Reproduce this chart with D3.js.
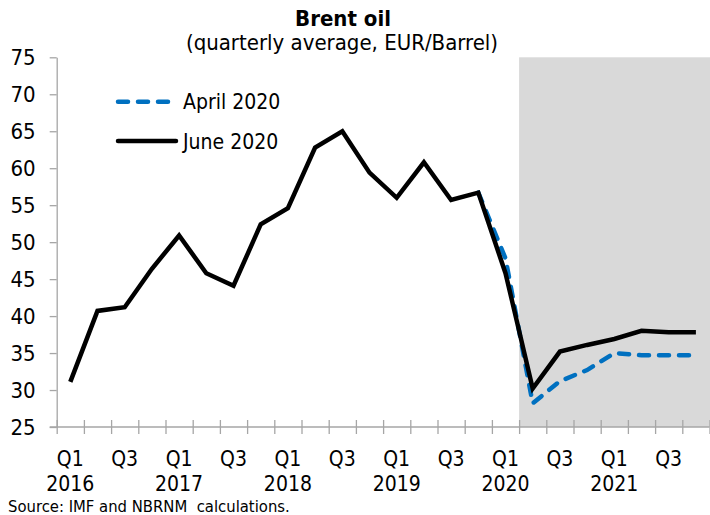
<!DOCTYPE html>
<html>
<head>
<meta charset="utf-8">
<script src="https://cdn.jsdelivr.net/npm/d3@7"></script>
<style>
  body { margin: 0; background: #fff; }
  svg { display: block; font-family: "DejaVu Sans Condensed", "DejaVu Sans", sans-serif; }
</style>
</head>
<body>
<svg width="710" height="515"></svg>
<script>
var years = ["2016", "2017", "2018", "2019", "2020", "2021"];
var quarters = ["Q1", "Q2", "Q3", "Q4"];
var shownQuarters = ["Q1", "Q3"];
var yTicks = [25, 30, 35, 40, 45, 50, 55, 60, 65, 70, 75];

// June 2020 projection (black)
var june = [31.1, 40.7, 41.2, 46.4, 50.9, 45.8, 44.1, 52.4,
            54.6, 62.8, 65.0, 59.4, 56.0, 60.8, 55.7, 56.7,
            45.8, 30.2, 35.2, 36.1, 36.9, 38.0, 37.8, 37.8];
// April 2020 projection (blue dashed)
var april = [31.1, 40.7, 41.2, 46.4, 50.9, 45.8, 44.1, 52.4,
             54.6, 62.8, 65.0, 59.4, 56.0, 60.8, 55.7, 56.7,
             47.8, 28.2, 31.2, 32.7, 35.0, 34.7, 34.7, 34.7];
var forecastStart = "2020 Q2";
var aprilFrom = "2019 Q4";   // april series only differs from here on

var categories = [];
years.forEach(function(yr) {
    quarters.forEach(function(q) { categories.push(yr + " " + q); });
});

var svg = d3.select("svg");
var margin = {top: 57.3, left: 56.7, right: 710 - 709.5, bottom: 515 - 427};
var width = 710 - margin.left - margin.right;
var height = 515 - margin.top - margin.bottom;

var x = d3.scaleBand().domain(categories).range([margin.left, margin.left + width]).padding(0);
var y = d3.scaleLinear().domain([25, 75]).range([margin.top + height, margin.top]);
var axisColor = "#a6a6a6";

// shaded forecast area
svg.append("rect")
    .attr("x", x(forecastStart))
    .attr("y", y(75))
    .attr("width", margin.left + width - x(forecastStart) + 1)
    .attr("height", y(25) - y(75))
    .attr("fill", "#d9d9d9");

// y axis
var yAxis = svg.append("g")
    .attr("transform", "translate(" + margin.left + ",0)")
    .call(d3.axisLeft(y).tickValues(yTicks).tickSize(7).tickSizeOuter(0).tickPadding(14));
yAxis.select(".domain").attr("stroke", axisColor).attr("stroke-width", 1.3);
yAxis.selectAll(".tick line").attr("stroke", axisColor).attr("stroke-width", 1.3);
yAxis.selectAll(".tick text")
    .attr("font-size", 22)
    .attr("fill", "#000")
    .attr("font-family", "DejaVu Sans Condensed");

// x axis: ticks at category boundaries, crossing the axis
var bounds = d3.range(categories.length + 1);
var xb = d3.scaleLinear().domain([0, categories.length]).range([margin.left, margin.left + width]);
var xAxis = svg.append("g")
    .attr("transform", "translate(0," + y(25) + ")")
    .call(d3.axisBottom(xb).tickValues(bounds).tickSize(7).tickSizeOuter(0).tickFormat(""));
xAxis.select(".domain").attr("stroke", axisColor).attr("stroke-width", 1.3)
    .attr("d", "M" + (margin.left - 7) + ",0H" + (margin.left + width));
xAxis.selectAll(".tick line").attr("stroke", axisColor).attr("stroke-width", 1.3).attr("y1", -7);

// category labels
var labelled = categories.filter(function(c) { return shownQuarters.indexOf(c.split(" ")[1]) >= 0; });
svg.append("g").selectAll("text")
    .data(labelled)
    .enter().append("text")
    .attr("x", function(d) { return x(d) + x.bandwidth() / 2; })
    .attr("y", 466)
    .attr("text-anchor", "middle")
    .attr("font-size", 21)
    .text(function(d) { return d.split(" ")[1]; });

svg.append("g").selectAll("text")
    .data(years)
    .enter().append("text")
    .attr("x", function(d) { return x(d + " Q1") + x.bandwidth() / 2; })
    .attr("y", 491)
    .attr("text-anchor", "middle")
    .attr("font-size", 21)
    .text(function(d) { return d; });

// lines
var startIdx = categories.indexOf(aprilFrom);
var line = function(values, from) {
    return d3.line()
        .defined(function(d, i) { return i >= from; })
        .x(function(d, i) { return x(categories[i]) + x.bandwidth() / 2; })
        .y(function(d) { return y(d); })(values);
};

svg.append("path")
    .attr("d", line(april, startIdx))
    .attr("fill", "none")
    .attr("stroke", "#0070c0")
    .attr("stroke-width", 4.5)
    .attr("stroke-dasharray", "10,10")
    .attr("stroke-linecap", "round");

svg.append("path")
    .attr("d", line(june, 0))
    .attr("fill", "none")
    .attr("stroke", "#000")
    .attr("stroke-width", 4.5);

// legend
var legend = [
    {name: "April 2020", color: "#0070c0", dash: "10,10", y: 101.7},
    {name: "June 2020", color: "#000", dash: null, y: 141}
];
var lg = svg.append("g").selectAll("g").data(legend).enter().append("g");
lg.append("line")
    .attr("x1", 118).attr("x2", 176)
    .attr("y1", function(d) { return d.y; })
    .attr("y2", function(d) { return d.y; })
    .attr("stroke", function(d) { return d.color; })
    .attr("stroke-width", 4.5)
    .attr("stroke-linecap", "round")
    .attr("stroke-dasharray", function(d) { return d.dash; });
lg.append("text")
    .attr("x", 183)
    .attr("y", function(d) { return d.y + 7.5; })
    .attr("font-size", 21)
    .text(function(d) { return d.name; });

// titles
svg.append("text")
    .attr("x", 343).attr("y", 26)
    .attr("text-anchor", "middle")
    .attr("font-size", 22)
    .attr("font-weight", "bold")
    .text("Brent oil");
svg.append("text")
    .attr("x", 342).attr("y", 50)
    .attr("text-anchor", "middle")
    .attr("font-size", 22)
    .text("(quarterly average, EUR/Barrel)");

svg.append("text")
    .attr("x", 8).attr("y", 512)
    .attr("font-size", 16.5)
    .style("white-space", "pre")
    .text("Source: IMF and NBRNM  calculations.");
</script>
</body>
</html>
